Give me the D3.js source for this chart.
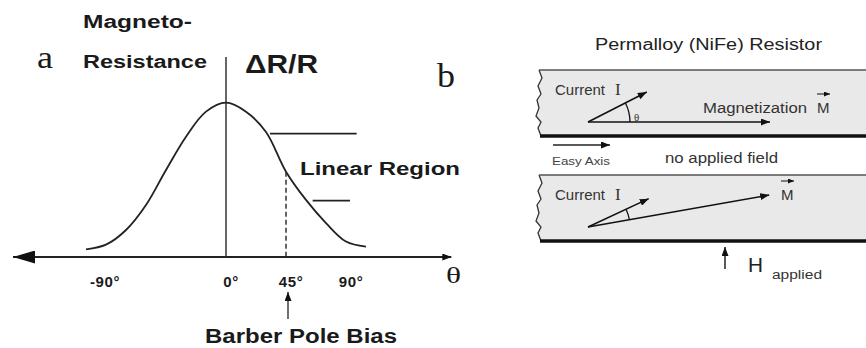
<!DOCTYPE html>
<html>
<head>
<meta charset="utf-8">
<script src="https://cdn.jsdelivr.net/npm/d3@7"></script>
<style>
  body { margin: 0; background: #fff; }
  text { fill: #1a1a1a; }
</style>
</head>
<body>
<div id="chart"></div>
<script>
// curve of panel a: angle (deg) vs relative dR/R
const curveTheta = [-105, -90, -75, -60, -45, -30, -15, 0, 15, 30, 45, 60, 75, 90, 105];
const curveValue = [0.05, 0.08, 0.175, 0.337, 0.564, 0.78, 0.942, 1, 0.942, 0.81, 0.553, 0.37, 0.22, 0.10, 0.067];
const tickTheta = [-90, 0, 45, 90];
const tickLabels = ["-90°", "0°", "45°", "90°"];
const biasTheta = 45;
// linear region markers: level, from angle, to angle
const regionLevel = [0.80, 0.365];
const regionFrom = [33, 65];
const regionTo = [98, 93];

// panel b: two states of the permalloy strip
const stateLabels = ["no applied field", "H applied"];
const currentAngle = [27, 25];
const currentLength = [66, 67];
const magAngle = [0, 10];
const magLength = [182, 184];

const width = 866, height = 348;

const svg = d3.select("#chart")
  .append("svg")
  .attr("width", width)
  .attr("height", height);

const defs = svg.append("defs");
function marker(id, w, h) {
  defs.append("marker")
    .attr("id", id)
    .attr("viewBox", `0 0 ${w} ${h}`)
    .attr("refX", w).attr("refY", h / 2)
    .attr("markerWidth", w).attr("markerHeight", h)
    .attr("markerUnits", "userSpaceOnUse")
    .attr("orient", "auto")
    .append("path")
    .attr("d", `M0,0L${w},${h / 2}L0,${h}Z`)
    .attr("fill", "#111");
}
marker("small", 9, 7);
marker("tiny", 6, 5);
marker("big", 22, 13);

function label(txt, x, y, size, opts = {}) {
  const t = svg.append("text")
    .attr("x", x).attr("y", y)
    .attr("font-family", opts.serif ? "'Liberation Serif', 'DejaVu Serif', serif" : "'Liberation Sans', Arial, sans-serif")
    .attr("font-weight", opts.bold ? "bold" : "normal")
    .attr("font-size", size)
    .text(txt);
  if (opts.len) t.attr("textLength", opts.len).attr("lengthAdjust", "spacingAndGlyphs");
  if (opts.fill) t.style("fill", opts.fill);
  return t;
}

// ---------- panel a ----------
const x = d3.scaleLinear().domain([0, 90]).range([226, 346]);
const y = d3.scaleLinear().domain([0, 1]).range([257, 102.7]);

// horizontal axis with arrows both ways
svg.append("line")
  .attr("x1", 34).attr("x2", x(169))
  .attr("y1", y(0)).attr("y2", y(0))
  .attr("stroke", "#222").attr("stroke-width", 2)
  .attr("marker-end", "url(#small)");
svg.append("line")
  .attr("x1", 40).attr("x2", 13)
  .attr("y1", y(0)).attr("y2", y(0))
  .attr("stroke", "#222").attr("stroke-width", 2)
  .attr("marker-end", "url(#big)");

// vertical axis
svg.append("line")
  .attr("x1", x(0)).attr("x2", x(0))
  .attr("y1", 57).attr("y2", y(0))
  .attr("stroke", "#333").attr("stroke-width", 1.5);

const line = d3.line()
  .x((d, i) => x(curveTheta[i]))
  .y(d => y(d))
  .curve(d3.curveCatmullRom);

svg.append("path")
  .datum(curveValue)
  .attr("d", line)
  .attr("fill", "none")
  .attr("stroke", "#222")
  .attr("stroke-width", 1.8);

// bias dashed line
const biasVal = curveValue[curveTheta.indexOf(biasTheta)];
svg.append("line")
  .attr("x1", x(biasTheta)).attr("x2", x(biasTheta))
  .attr("y1", y(biasVal)).attr("y2", y(0))
  .attr("stroke", "#333").attr("stroke-width", 1.5)
  .attr("stroke-dasharray", "5,3");

// linear region bars
svg.selectAll(".region")
  .data(regionLevel)
  .enter().append("line")
  .attr("x1", (d, i) => x(regionFrom[i]))
  .attr("x2", (d, i) => x(regionTo[i]))
  .attr("y1", d => y(d)).attr("y2", d => y(d))
  .attr("stroke", "#222").attr("stroke-width", 1.8);

// tick labels
svg.selectAll(".tick")
  .data(tickTheta)
  .enter().append("text")
  .attr("x", d => x(d))
  .attr("dx", d => d < 0 ? -1 : 5)
  .attr("y", 287)
  .attr("text-anchor", "middle")
  .attr("font-family", "'Liberation Sans', Arial, sans-serif")
  .attr("font-weight", "bold")
  .attr("font-size", 15)
  .attr("letter-spacing", 0.6)
  .text((d, i) => tickLabels[i]);

// barber pole bias arrow
svg.append("line")
  .attr("x1", x(biasTheta) + 2).attr("x2", x(biasTheta) + 2)
  .attr("y1", 319).attr("y2", 292)
  .attr("stroke", "#222").attr("stroke-width", 1.3)
  .attr("marker-end", "url(#small)");

label("Magneto-", 83, 28, 18, { bold: true, len: 109 });
label("Resistance", 83, 68, 18, { bold: true, len: 124 });
label("a", 37, 68, 32, { serif: true, len: 16 });
label("ΔR/R", 245, 73, 25, { bold: true, len: 73 });
label("b", 437, 87, 34, { serif: true, len: 18 });
label("Linear Region", 300, 175, 18, { bold: true, len: 160 });
label("θ", 446, 283, 24, { serif: true, len: 15 });
label("Barber Pole Bias", 205, 343, 20, { bold: true, len: 192 });

// ---------- panel b ----------
label("Permalloy (NiFe) Resistor", 595, 50, 16, { len: 227, fill: "#222" });

const stripTop = [70, 175];
const stripH = 66;
const wave = d3.line().curve(d3.curveLinear);

stateLabels.forEach((s, k) => {
  const t = stripTop[k], b = t + stripH;
  const edge = [[541, b], [538, b - 8], [541, b - 14], [536, b - 20], [539, b - 28],
    [537, b - 36], [541, b - 42], [538, b - 50], [542, b - 58], [539, t]];
  svg.append("path")
    .attr("d", wave([[866, t], [866, b], ...edge]) + "Z")
    .attr("fill", "#e9e9e9")
    .attr("stroke", "none");
  svg.append("path")
    .attr("d", wave(edge))
    .attr("fill", "none").attr("stroke", "#333").attr("stroke-width", 1.3);
  svg.append("line")
    .attr("x1", 539).attr("x2", 866).attr("y1", t).attr("y2", t)
    .attr("stroke", "#555").attr("stroke-width", 1.5);
  svg.append("line")
    .attr("x1", 540).attr("x2", 866).attr("y1", b).attr("y2", b)
    .attr("stroke", "#111").attr("stroke-width", 3.5);

  // vectors from a common origin
  const ox = 588, oy = t + 52;
  const ca = currentAngle[k] * Math.PI / 180, ma = magAngle[k] * Math.PI / 180;
  svg.append("line")
    .attr("x1", ox).attr("y1", oy)
    .attr("x2", ox + currentLength[k] * Math.cos(ca))
    .attr("y2", oy - currentLength[k] * Math.sin(ca))
    .attr("stroke", "#111").attr("stroke-width", 1.5)
    .attr("marker-end", "url(#small)");
  svg.append("line")
    .attr("x1", ox).attr("y1", oy)
    .attr("x2", ox + magLength[k] * Math.cos(ma))
    .attr("y2", oy - magLength[k] * Math.sin(ma))
    .attr("stroke", "#111").attr("stroke-width", 1.5)
    .attr("marker-end", "url(#small)");
  const arc = d3.arc()
    .innerRadius(42).outerRadius(42)
    .startAngle(Math.PI / 2 - ma)
    .endAngle(Math.PI / 2 - ca);
  svg.append("path")
    .attr("transform", `translate(${ox},${oy})`)
    .attr("d", arc())
    .attr("fill", "none").attr("stroke", "#111").attr("stroke-width", 1.3);

  const ct = label("Current", 555, t + 25, 15, { fill: "#333" });
  ct.append("tspan").attr("dx", 10)
    .attr("font-family", "'Liberation Serif', serif").attr("font-size", 17).text("I");

  const mx = k === 0 ? 817 : 781, my = k === 0 ? t + 43 : t + 25;
  label("M", mx, my, 15, { fill: "#333" });
  svg.append("line")
    .attr("x1", mx).attr("x2", mx + 13)
    .attr("y1", my - 19).attr("y2", my - 19)
    .attr("stroke", "#333").attr("stroke-width", 1.2)
    .attr("marker-end", "url(#tiny)");
});

label("θ", 634, 121, 11, { serif: true, fill: "#333" });
label("Magnetization", 703, 113, 14, { len: 104, fill: "#333" });

// easy axis arrow
svg.append("line")
  .attr("x1", 553).attr("x2", 610).attr("y1", 145).attr("y2", 145)
  .attr("stroke", "#222").attr("stroke-width", 1.3)
  .attr("marker-end", "url(#small)");
label("Easy Axis", 552, 165, 11, { len: 58, fill: "#444" });
label(stateLabels[0], 665, 163, 14, { len: 113, fill: "#333" });

// applied field arrow
svg.append("line")
  .attr("x1", 725).attr("x2", 725).attr("y1", 269).attr("y2", 247)
  .attr("stroke", "#222").attr("stroke-width", 1.5)
  .attr("marker-end", "url(#small)");
label("H", 748, 272, 20, { len: 15, fill: "#222" });
label("applied", 772, 279, 12, { len: 50, fill: "#333" });
</script>
</body>
</html>
